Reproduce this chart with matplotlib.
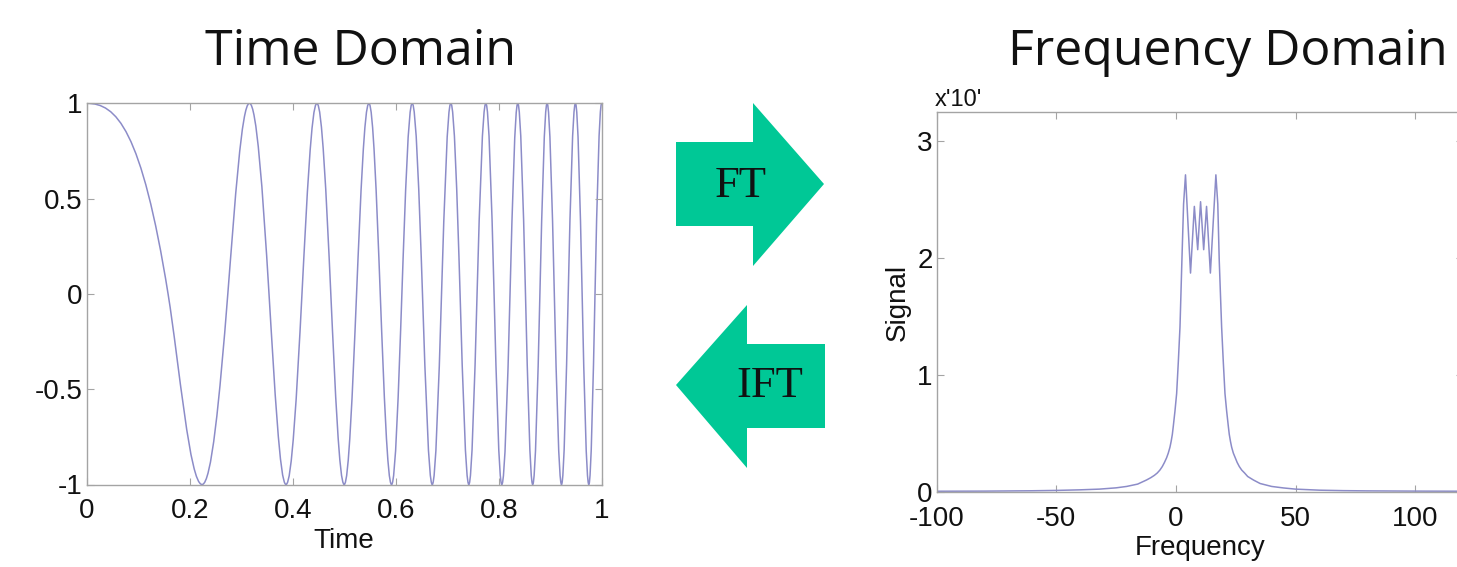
import numpy as np
import matplotlib
matplotlib.use('Agg')
import matplotlib.pyplot as plt
from matplotlib.path import Path
from matplotlib.patches import PathPatch, Polygon

plt.rcParams['font.family'] = ['Liberation Sans', 'DejaVu Sans']

# --- data ---
# time domain: turning points and zero crossings of the chirp
chirp_peak_t = [0.000, 0.224, 0.316, 0.387, 0.447, 0.500, 0.548, 0.592, 0.632, 0.671,
                0.707, 0.742, 0.775, 0.806, 0.837, 0.866, 0.894, 0.922, 0.949, 0.975, 1.000]
chirp_peak_v = [1, -1, 1, -1, 1, -1, 1, -1, 1, -1, 1, -1, 1, -1, 1, -1, 1, -1, 1, -1, 1]
chirp_zero_t = [0.158, 0.274, 0.354, 0.418, 0.474, 0.524, 0.570, 0.612, 0.652, 0.689,
                0.725, 0.758, 0.791, 0.822, 0.852, 0.880, 0.908, 0.935, 0.962, 0.987]

# frequency domain: magnitude spectrum
spec_freq = [-100, -80, -60, -50, -40, -32, -25, -20.6, -16, -12.3, -10.5, -9, -7.8, -6.7,
             -5.7, -4.8, -3.9, -3.2, -2.5, -2, -1.5, -1.1, -0.4, 0.3, 1.0, 1.7, 2.5, 3.2,
             4.0, 6.1, 7.7, 9.1, 10.3, 11.6, 12.8, 14.4, 16.7, 17.5, 18.1, 19.1, 19.8,
             20.5, 21.2, 21.9, 22.3, 22.8, 23.3, 24.0, 24.8, 25.6, 26.5, 27.5, 28.7, 30,
             32.4, 35.2, 40, 45, 50, 60, 70, 80, 100, 120]
spec_mag = [0.004, 0.005, 0.008, 0.011, 0.016, 0.022, 0.033, 0.045, 0.065, 0.10, 0.12, 0.14,
            0.16, 0.185, 0.215, 0.25, 0.29, 0.33, 0.38, 0.43, 0.49, 0.56, 0.69, 0.84, 1.11,
            1.41, 1.98, 2.46, 2.71, 1.87, 2.44, 2.07, 2.48, 2.07, 2.44, 1.87, 2.71, 2.46,
            1.98, 1.41, 1.11, 0.84, 0.69, 0.56, 0.49, 0.43, 0.38, 0.33, 0.29, 0.25, 0.215,
            0.185, 0.16, 0.13, 0.10, 0.07, 0.045, 0.032, 0.022, 0.013, 0.009, 0.007, 0.005,
            0.004]

time_ticks = [0, 0.2, 0.4, 0.6, 0.8, 1]
time_ticklabels = ['0', '0.2', '0.4', '0.6', '0.8', '1']
amp_ticks = [-1, -0.5, 0, 0.5, 1]
amp_ticklabels = ['-1', '-0.5', '0', '0.5', '1']
freq_ticks = [-100, -50, 0, 50, 100]
freq_ticklabels = ['-100', '-50', '0', '50', '100']
sig_ticks = [0, 1, 2, 3]
sig_ticklabels = ['0', '1', '2', '3']

# --- layout (pixels of the 1457x567 image) ---
W, H = 1457, 567
LINE = '#8c8cc8'
SPINE = '#a4a4a4'
GREEN = '#00c896'


def fx(x):
    return x / W


def fy(y):
    return 1 - y / H


fig = plt.figure(figsize=(W / 100, H / 100), dpi=100)

ax1 = fig.add_axes([fx(86.7), fy(484.5), (601.7 - 86.7) / W, (484.5 - 103.3) / H])
ax2 = fig.add_axes([fx(936.7), fy(491.7), (1463 - 936.7) / W, (491.7 - 111.7) / H])

for ax in (ax1, ax2):
    for sp in ax.spines.values():
        sp.set_color(SPINE)
        sp.set_linewidth(1.0)
    ax.tick_params(direction='in', length=5, width=0.8, color=SPINE,
                   top=True, right=True, labelsize=20, labelcolor='#111111')
    ax.tick_params(axis='x', pad=10)
    ax.tick_params(axis='y', pad=3)

# chirp drawn as cubic bezier quarter waves between the read points
verts = [(chirp_peak_t[0], chirp_peak_v[0])]
codes = [Path.MOVETO]
for i in range(len(chirp_zero_t)):
    te, v = chirp_peak_t[i], chirp_peak_v[i]
    tz = chirp_zero_t[i]
    te2, v2 = chirp_peak_t[i + 1], chirp_peak_v[i + 1]
    q1 = tz - te
    q2 = te2 - tz
    s = (np.pi / 2) * (1 / q1 + 1 / q2) / 2
    h1 = 0.3261 * q1
    h2 = 0.3261 * q2
    verts += [(te + 0.3619 * q1, v), (tz - h1, v * min(s * h1, 0.9)), (tz, 0),
              (tz + h2, v2 * min(s * h2, 0.9)), (te2 - 0.3619 * q2, v2), (te2, v2)]
    codes += [Path.CURVE4] * 6
ax1.add_patch(PathPatch(Path(verts, codes), fill=False, edgecolor=LINE, lw=1.1))

ax1.set_xlim(0, 1)
ax1.set_ylim(-1, 1)
ax1.set_xticks(time_ticks)
ax1.set_xticklabels(time_ticklabels)
ax1.set_yticks(amp_ticks)
ax1.set_yticklabels(amp_ticklabels)

ax2.plot(spec_freq, spec_mag, color=LINE, lw=1.1)
ax2.set_xlim(-100, 120)
ax2.set_ylim(0, 3.25)
ax2.set_xticks(freq_ticks)
ax2.set_xticklabels(freq_ticklabels)
ax2.set_yticks(sig_ticks)
ax2.set_yticklabels(sig_ticklabels)

# titles and labels
fig.text(fx(361), fy(65), 'Time Domain', family='Open Sans', fontsize=36,
         ha='center', va='baseline', color='#111111')
fig.text(fx(1228), fy(65), 'Frequency Domain', family='Open Sans', fontsize=36,
         ha='center', va='baseline', color='#111111')
fig.text(fx(344), fy(548), 'Time', fontsize=20, ha='center', va='baseline', color='#111111')
fig.text(fx(1200), fy(555), 'Frequency', fontsize=20, ha='center', va='baseline', color='#111111')
fig.text(fx(898), fy(302), 'Signal', fontsize=20, rotation=90, ha='center', va='center',
         color='#111111')
fig.text(fx(935), fy(106), "x'10'", fontsize=17, ha='left', va='baseline', color='#111111')

# FT / IFT arrows
ft_arrow = [(676, 142), (753, 142), (753, 103), (824, 184), (753, 266), (753, 226), (676, 226)]
ift_arrow = [(676, 385), (747, 305), (747, 344), (825, 344), (825, 428), (747, 428), (747, 468)]
for shape in (ft_arrow, ift_arrow):
    pts = [(fx(x), fy(y)) for x, y in shape]
    fig.add_artist(Polygon(pts, closed=True, transform=fig.transFigure,
                           facecolor=GREEN, edgecolor='none'))
fig.text(fx(741), fy(197), 'FT', family='Liberation Serif', fontsize=32,
         ha='center', va='baseline', color='#111111')
fig.text(fx(770), fy(397), 'IFT', family='Liberation Serif', fontsize=32,
         ha='center', va='baseline', color='#111111')

fig.savefig('out.png', dpi=100)
